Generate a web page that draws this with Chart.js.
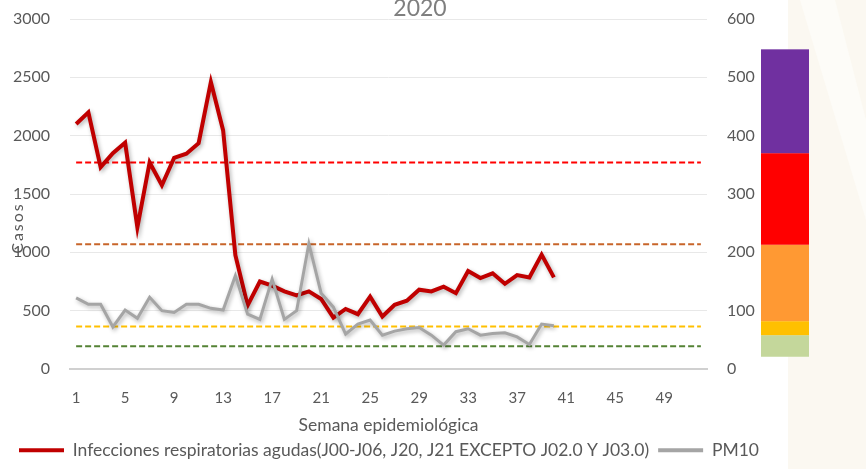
<!DOCTYPE html>
<html><head><meta charset="utf-8">
<script src="https://cdn.jsdelivr.net/npm/chart.js@4/dist/chart.umd.min.js"></script>
<style>html,body{margin:0;padding:0;background:#fff}#wrap{width:866px;height:469px;position:relative}</style>
</head><body><div id="wrap"><canvas id="c" width="866" height="469"></canvas></div>
<script>
const weeks = ['1','2','3','4','5','6','7','8','9','10','11','12','13','14','15','16','17','18','19','20','21','22','23','24','25','26','27','28','29','30','31','32','33','34','35','36','37','38','39','40','41','42','43','44','45','46','47','48','49','50','51','52'];
const iraValues = [2100, 2200, 1730, 1850, 1940, 1215, 1770, 1575, 1810, 1845, 1935, 2460, 2045, 975, 545, 750, 715, 665, 630, 665, 600, 440, 515, 470, 620, 450, 550, 585, 680, 665, 705, 650, 840, 780, 820, 730, 805, 785, 980, 785];
const pm10Values = [122, 111, 111, 72, 101, 87, 123, 100, 97, 111, 111, 104, 101, 160, 94, 85, 154, 85, 100, 215, 130, 106, 60, 77, 84, 58, 65, 69, 71, 58, 41, 64, 69, 58, 61, 62, 55, 42, 77, 74];
const thresholdValues = [354, 214, 73, 39];
const thresholdColors = ['#FF0000', '#C8652A', '#FFC000', '#548235'];
const bandLow = [21, 58, 82, 213, 370];
const bandHigh = [58, 82, 213, 370, 548];
const bandColors = ['#C4D79B', '#FFC000', '#FF9933', '#FF0000', '#7030A0'];
const seriesNames = ['Infecciones respiratorias agudas(J00-J06, J20, J21 EXCEPTO J02.0 Y J03.0)', 'PM10'];
const titleText = '2020';
const yTitleText = 'Casos';
const xTitleText = 'Semana epidemiológica';

const FONT = 'Lato, "Open Sans", sans-serif';
const TXT = '#595959';

const datasets = [
  { label: seriesNames[0], data: iraValues, yAxisID: 'y', borderColor: '#C00000', backgroundColor: '#C00000', borderWidth: 4, pointRadius: 0, tension: 0, order: 2 },
  { label: seriesNames[1], data: pm10Values, yAxisID: 'y1', borderColor: '#A5A5A5', backgroundColor: '#A5A5A5', borderWidth: 3, pointRadius: 0, tension: 0, order: 1 }
];
thresholdValues.forEach((v, i) => {
  datasets.push({ label: 'u' + i, data: weeks.map(() => v), yAxisID: 'y1', borderColor: thresholdColors[i], borderWidth: 2, borderDash: [6, 3], pointRadius: 0, order: 5 });
});

const bgPlugin = {
  id: 'bg',
  beforeDraw(chart) {
    const ctx = chart.ctx;
    ctx.save();
    ctx.fillStyle = '#ffffff';
    ctx.fillRect(0, 0, chart.width, chart.height);
    ctx.fillStyle = '#FBF8F1';
    ctx.fillRect(788, 0, chart.width - 788, chart.height);
    ctx.fillStyle = '#FDFCF8';
    ctx.beginPath();
    ctx.moveTo(800, 0); ctx.lineTo(835, 0); ctx.lineTo(866, 120); ctx.lineTo(866, 220);
    ctx.closePath(); ctx.fill();
    ctx.restore();
  }
};

const shadowPlugin = {
  id: 'shadow',
  beforeDatasetDraw(chart, args) {
    if (args.index > 1) return;
    const ctx = chart.ctx;
    ctx.save();
    ctx.shadowColor = 'rgba(0,0,0,0.3)';
    ctx.shadowBlur = 4;
    ctx.shadowOffsetX = 1.5;
    ctx.shadowOffsetY = 2;
  },
  afterDatasetDraw(chart, args) {
    if (args.index > 1) return;
    chart.ctx.restore();
  }
};

const decorPlugin = {
  id: 'decor',
  afterDraw(chart) {
    const ctx = chart.ctx;
    const y1 = chart.scales.y1;
    const ca = chart.chartArea;
    ctx.save();
    // colour scale bars on the right axis
    const x0 = ca.right + 54, w = 48;
    bandLow.forEach((lo, i) => {
      const top = y1.getPixelForValue(bandHigh[i]);
      const bot = y1.getPixelForValue(lo);
      ctx.fillStyle = bandColors[i];
      ctx.fillRect(x0, top, w, bot - top);
    });
    // chart title
    ctx.fillStyle = '#7F7F7F';
    ctx.font = '23px ' + FONT;
    ctx.textAlign = 'center';
    ctx.textBaseline = 'alphabetic';
    ctx.fillText(titleText, 420, 15.5);
    // y axis title
    ctx.translate(18, 228);
    ctx.rotate(-Math.PI / 2);
    ctx.fillStyle = TXT;
    ctx.font = '16px ' + FONT;
    ctx.textBaseline = 'middle';
    if ('letterSpacing' in ctx) ctx.letterSpacing = '2px';
    ctx.fillText(yTitleText, 0, 0);
    ctx.restore();
  }
};

new Chart(document.getElementById('c'), {
  type: 'line',
  data: { labels: weeks, datasets },
  plugins: [bgPlugin, shadowPlugin, decorPlugin],
  options: {
    responsive: false,
    animation: false,
    devicePixelRatio: 1,
    layout: { padding: { top: 19, left: 10, right: 0, bottom: 0 } },
    plugins: {
      title: { display: false },
      tooltip: { enabled: false },
      legend: {
        position: 'bottom',
        align: 'start',
        labels: {
          boxWidth: 45, boxHeight: 4, padding: 9,
          color: TXT, font: { family: FONT, size: 17.5 },
          generateLabels(chart) {
            return Chart.defaults.plugins.legend.labels.generateLabels(chart)
              .filter(it => it.datasetIndex < 2)
              .sort((a, b) => a.datasetIndex - b.datasetIndex)
              .map(it => Object.assign(it, { lineWidth: 0, strokeStyle: 'rgba(0,0,0,0)' }));
          }
        }
      }
    },
    scales: {
      x: {
        type: 'category',
        offset: true,
        grid: { display: false, drawTicks: false },
        border: { display: true, color: '#D0D0D0', width: 2 },
        ticks: {
          autoSkip: false, maxRotation: 0, padding: 20,
          color: TXT, font: { family: FONT, size: 15 },
          callback: (v, i) => (i % 4 === 0 ? weeks[i] : '')
        },
        title: { display: true, text: xTitleText, color: TXT, font: { family: FONT, size: 17.5 }, padding: { top: 0, bottom: -3 } },
        afterFit: s => { s.height = 63.5; }
      },
      y: {
        position: 'left', min: 0, max: 3000,
        grid: { color: '#E8E8E8', drawTicks: true, tickLength: 20, tickColor: 'rgba(0,0,0,0)' },
        border: { display: false },
        ticks: { stepSize: 500, padding: 0, color: TXT, font: { family: FONT, size: 16 }, callback: v => String(v) },
        afterFit: s => { s.width = 60; }
      },
      y1: {
        position: 'right', min: 0, max: 600,
        grid: { display: true, drawOnChartArea: false, drawTicks: true, tickLength: 20, tickColor: 'rgba(0,0,0,0)' },
        border: { display: false },
        ticks: { stepSize: 100, padding: 0, color: TXT, font: { family: FONT, size: 16 }, callback: v => String(v) },
        afterFit: s => { s.width = 159; }
      }
    }
  }
});
</script>
</body></html>
